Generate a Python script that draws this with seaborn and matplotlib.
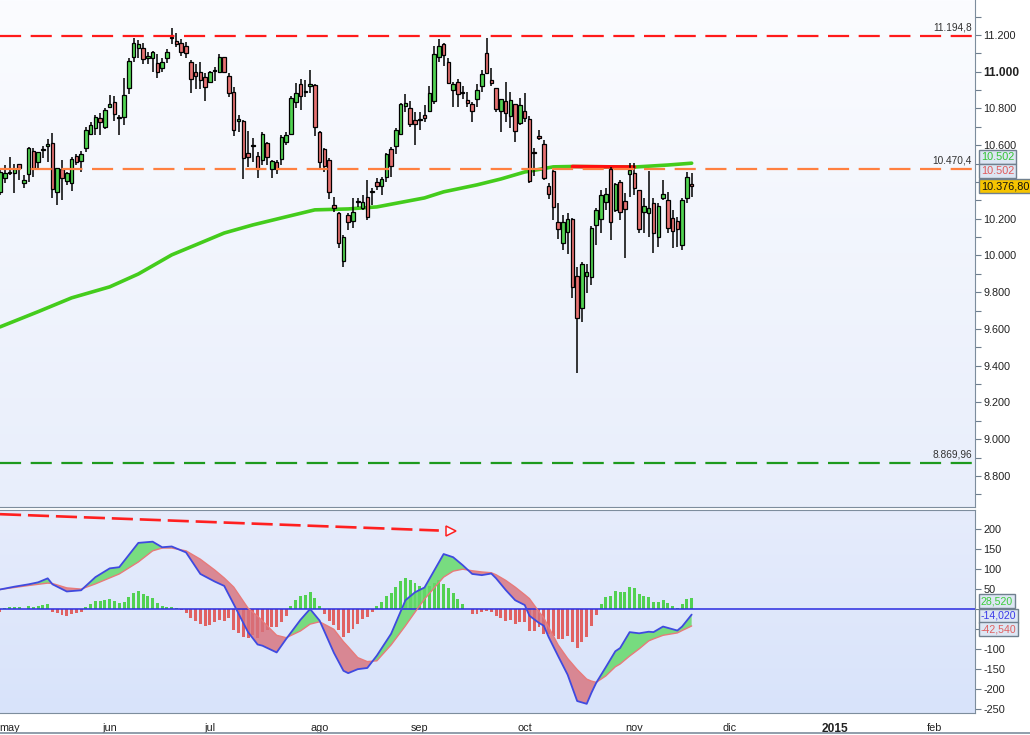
import numpy as np
import pandas as pd
import matplotlib
matplotlib.use("Agg")
import matplotlib.pyplot as plt
from matplotlib.colors import LinearSegmentedColormap
import seaborn as sns

# ---- daily candles (IBEX 35, 29 apr 2014 -> 19 nov 2014) ----
opens = [10343, 10420, 10447, 10450, 10496, 10392, 10443, 10568, 10507, 10576,
         10594, 10610, 10347, 10470, 10407, 10396, 10543, 10516, 10587, 10663,
         10692, 10746, 10701, 10810, 10833, 10748, 10752, 10909, 11082, 11127,
         11127, 11073, 11073, 11046, 11022, 11073, 11183, 11167, 11154, 11138,
         11051, 10996, 11000, 10969, 10946, 11004, 10996, 11078, 10978, 10891,
         10730, 10733, 10556, 10595, 10541, 10518, 10610, 10469, 10510, 10523,
         10616, 10659, 10833, 10931, 10891, 10920, 10926, 10674, 10577, 10519,
         10273, 10229, 9972, 10220, 10189, 10293, 10260, 10316, 10345, 10398,
         10380, 10425, 10577, 10598, 10663, 10815, 10801, 10735, 10739, 10764,
         10788, 10842, 11078, 11149, 11051, 10902, 10942, 10882, 10844, 10824,
         10850, 10924, 11100, 10953, 10909, 10788, 10839, 10761, 10822, 10719,
         10784, 10740, 10558, 10650, 10607, 10378, 10460, 10180, 10066, 10130,
         10197, 9890, 9716, 9890, 9885, 10164, 10197, 10293, 10469, 10247,
         10398, 10298, 10442, 10447, 10354, 10238, 10233, 10284, 10099, 10311,
         10300, 10202, 10188, 10055, 10311, 10387]
highs = [10465, 10492, 10536, 10500, 10496, 10438, 10592, 10583, 10565, 10597,
         10634, 10665, 10474, 10519, 10456, 10537, 10550, 10568, 10701, 10728,
         10764, 10773, 10801, 10873, 10870, 10764, 10964, 11076, 11182, 11173,
         11154, 11109, 11113, 11094, 11073, 11124, 11240, 11209, 11178, 11160,
         11064, 11040, 11051, 10991, 11004, 11027, 11094, 11078, 10991, 10915,
         10764, 10737, 10677, 10637, 10565, 10674, 10619, 10519, 10519, 10656,
         10674, 10870, 10937, 10960, 10955, 11009, 10931, 10677, 10583, 10529,
         10320, 10238, 10111, 10229, 10314, 10311, 10329, 10411, 10365, 10420,
         10429, 10556, 10592, 10692, 10828, 10877, 10841, 10779, 10779, 10819,
         10922, 11142, 11178, 11154, 11073, 10942, 10960, 10924, 10891, 10837,
         10931, 11009, 11185, 11018, 10913, 10851, 10942, 10891, 10826, 10855,
         10882, 10760, 10585, 10683, 10629, 10393, 10465, 10284, 10220, 10229,
         10202, 9939, 9966, 9952, 10160, 10257, 10356, 10365, 10483, 10396,
         10411, 10338, 10501, 10501, 10356, 10311, 10460, 10311, 10284, 10411,
         10347, 10247, 10211, 10311, 10456, 10447]
lows = [10330, 10392, 10438, 10338, 10410, 10365, 10401, 10429, 10474, 10528,
        10510, 10314, 10274, 10302, 10383, 10353, 10492, 10456, 10565, 10656,
        10656, 10656, 10688, 10801, 10733, 10656, 10710, 10879, 11051, 11073,
        11040, 11040, 11000, 10964, 11000, 11046, 11149, 11136, 11087, 11073,
        10882, 10904, 10906, 10840, 10942, 10949, 10991, 10996, 10864, 10650,
        10674, 10414, 10483, 10510, 10420, 10492, 10492, 10420, 10441, 10492,
        10601, 10656, 10801, 10792, 10864, 10882, 10652, 10465, 10456, 10305,
        10238, 10042, 9939, 10138, 10148, 10266, 10247, 10193, 10275, 10356,
        10329, 10402, 10429, 10552, 10656, 10779, 10701, 10601, 10683, 10728,
        10779, 10824, 11055, 11031, 10931, 10810, 10810, 10852, 10810, 10728,
        10810, 10891, 10986, 10924, 10779, 10670, 10724, 10692, 10619, 10710,
        10728, 10393, 10430, 10629, 10411, 10306, 10193, 10088, 10030, 10008,
        9767, 9362, 9640, 9794, 9839, 10057, 10120, 10247, 10084, 10238,
        10193, 9988, 10320, 10329, 10124, 10120, 10102, 10012, 10048, 10302,
        10120, 10039, 10048, 10030, 10287, 10320]
closes = [10456, 10450, 10455, 10470, 10474, 10410, 10583, 10478, 10561, 10580,
          10606, 10360, 10474, 10420, 10447, 10523, 10510, 10550, 10683, 10710,
          10752, 10728, 10790, 10822, 10768, 10752, 10873, 11058, 11154, 11149,
          11067, 11084, 11105, 11000, 11051, 11105, 11187, 11149, 11109, 11100,
          10958, 10978, 10953, 10915, 11000, 11008, 11082, 11000, 10882, 10681,
          10741, 10528, 10534, 10599, 10469, 10659, 10534, 10516, 10470, 10643,
          10656, 10855, 10882, 10870, 10895, 10931, 10701, 10507, 10489, 10347,
          10260, 10070, 10099, 10184, 10235, 10297, 10289, 10211, 10349, 10380,
          10414, 10550, 10489, 10681, 10822, 10828, 10714, 10717, 10743, 10746,
          10882, 11094, 11142, 11093, 10940, 10931, 10877, 10886, 10832, 10788,
          10899, 10986, 10995, 10940, 10795, 10850, 10773, 10844, 10679, 10819,
          10746, 10407, 10562, 10639, 10423, 10333, 10266, 10142, 10180, 10197,
          9830, 9662, 9952, 9908, 10148, 10246, 10327, 10333, 10184, 10387,
          10238, 10255, 10465, 10365, 10146, 10267, 10257, 10120, 10267, 10335,
          10148, 10133, 10142, 10300, 10425, 10376.8]

# moving average read at sample days (index of trading day)
ma_day = [0, 8, 15, 23, 29, 36, 41, 47, 53, 59, 66, 73, 79, 89, 93, 100, 105, 110,
          116, 120, 124, 129, 133, 140, 145]
ma_val = [9611, 9694, 9769, 9829, 9899, 10003, 10057, 10122, 10166, 10204, 10248,
          10253, 10264, 10313, 10346, 10384, 10416, 10454, 10482, 10484, 10483,
          10482, 10481, 10492, 10502]
ma_flat_from, ma_flat_to = 120, 133

# horizontal levels
res_level = 11194.8
mid_level = 10470.4
sup_level = 8869.96

# MACD panel
macd_day = [0, 3, 6, 8, 10, 11, 14, 17, 20, 23, 25, 29, 32, 34, 36, 39, 42, 45, 47,
            49, 52, 54, 55, 58, 60, 63, 65, 67, 70, 72, 73, 75, 77, 79, 82, 85, 87,
            89, 93, 95, 97, 99, 101, 103, 104, 106, 108, 110, 111, 113, 114, 115,
            117, 119, 121, 123, 124, 125, 127, 129, 130, 132, 134, 136, 137, 139,
            142, 143, 145]
macd_line = [49, 56, 62, 67, 77, 62, 44, 47, 80, 102, 105, 166, 169, 155, 157, 142,
             88, 69, 58, 12, -58, -89, -92, -109, -75, -27, 0, -29, -110, -155, -161,
             -151, -148, -117, -62, 22, 42, 54, 138, 130, 110, 88, 85, 89, 77, 48, 22,
             10, -17, -35, -42, -70, -118, -165, -231, -238, -210, -185, -146, -106,
             -98, -58, -61, -57, -58, -44, -54, -44, -14.02]
signal_line = [49, 54, 59, 62, 65, 64, 53, 50, 63, 78, 88, 118, 146, 153, 153, 146,
               125, 98, 78, 55, 2, -18, -30, -66, -72, -55, -38, -32, -51, -82, -95,
               -122, -132, -130, -90, -42, -8, 25, 80, 95, 100, 96, 93, 91, 86, 72, 55,
               36, 26, -7, -22, -45, -90, -124, -152, -176, -181, -184, -168, -145,
               -138, -118, -100, -80, -75, -66, -60, -54, -42.54]
hist = [-7, 2, 4, 6, 6, 1, 8, 6, 8, 10,
        13, -7, -10, -15, -17, -13, -10, -7, 6, 13,
        21, 21, 23, 25, 21, 14, 18, 31, 40, 45,
        38, 33, 28, 15, 8, 6, 6, 3, -3, -10,
        -23, -29, -38, -42, -40, -33, -27, -29, -23, -53,
        -60, -69, -74, -65, -74, -57, -52, -46, -46, -32,
        -17, 8, 23, 33, 35, 42, 28, 8, -13, -29,
        -40, -53, -69, -61, -49, -38, -25, -19, -7, 8,
        18, 32, 40, 54, 71, 78, 74, 65, 57, 52,
        59, 65, 73, 62, 52, 40, 25, 13, 0, -13,
        -12, -7, -4, -7, -17, -23, -29, -27, -38, -32,
        -32, -54, -54, -46, -63, -63, -67, -75, -75, -67,
        -82, -98, -82, -69, -42, -15, 13, 29, 32, 44,
        42, 42, 54, 52, 38, 32, 29, 17, 17, 23,
        14, 7, 3, 13, 25, 28.52]
trend_day = [0, 92]
trend_val = [238, 197]

month_names = ["may", "jun", "jul", "ago", "sep", "oct", "nov", "dic", "2015", "feb"]

# trading calendar (index -> date), extended into the future
days = pd.bdate_range("2014-04-29", periods=215, freq="C",
                      holidays=["2014-05-01", "2014-12-25", "2015-01-01"])
first_of_month = pd.Series(np.arange(len(days)), index=days).groupby(
    [days.year, days.month]).min().values
tick_pos = first_of_month[1:11]

sns.set_style("white")
plt.rcParams['font.family'] = ['Liberation Sans', 'DejaVu Sans']

W, H = 1030, 735
fig = plt.figure(figsize=(W / 100, H / 100), dpi=100)
fig.patch.set_facecolor("#ffffff")
ax = fig.add_axes([0, 1 - 507 / H, 975 / W, 507 / H])
ax2 = fig.add_axes([0, 1 - 713 / H, 975 / W, 203 / H])
fig.add_artist(plt.Line2D([0, 1], [2 / H, 2 / H], color="#7d8d9d", lw=1.2))


def gradient(a, top, bottom):
    cmap = LinearSegmentedColormap.from_list("bg", [top, bottom])
    a.imshow(np.linspace(0, 1, 256).reshape(-1, 1), extent=[0, 1, 0, 1],
             transform=a.transAxes, aspect="auto", cmap=cmap, zorder=0)


gradient(ax, "#fbfcff", "#e8eefb")
gradient(ax2, "#e6ecfc", "#d8e3fa")

# ---- candles ----
o, h, l, c = map(np.array, (opens, highs, lows, closes))
k = np.arange(len(c))
up = c >= o
lo = np.minimum(o, c)
bh = np.maximum(np.abs(c - o), 5)
ax.vlines(k, l, h, color="black", lw=1.1, zorder=3)
ax.bar(k[up], bh[up], bottom=lo[up], width=0.74, color="#52d452",
       edgecolor="black", lw=0.9, zorder=4)
ax.bar(k[~up], bh[~up], bottom=lo[~up], width=0.74, color="#e77272",
       edgecolor="black", lw=0.9, zorder=4)

# moving average
ma_day_a, ma_val_a = np.array(ma_day), np.array(ma_val)
sns.lineplot(x=ma_day_a, y=ma_val_a, ax=ax, color="#44cc1c", lw=2.6, zorder=2)
flat = (ma_day_a >= ma_flat_from) & (ma_day_a <= ma_flat_to)
ax.plot(ma_day_a[flat], ma_val_a[flat], color="#ff1010", lw=2.6, zorder=2.1)

# levels
dash = (9.5, 4.3)
ax.axhline(res_level, color="#ff1a1a", lw=1.6, dashes=dash, zorder=5)
ax.axhline(mid_level, color="#ff8040", lw=1.6, dashes=dash, zorder=5)
ax.axhline(sup_level, color="#1d9a1d", lw=1.6, dashes=dash, zorder=5)


def fmt(v, dec=0):
    s = f"{v:,.{dec}f}"
    return s.replace(",", "X").replace(".", ",").replace("X", ".")


for lev, txt in [(res_level, fmt(res_level, 1)), (mid_level, fmt(mid_level, 1)),
                 (sup_level, fmt(sup_level, 2))]:
    ax.text(0.997, lev + 18, txt, transform=ax.get_yaxis_transform(),
            ha="right", va="bottom", fontsize=7.3, color="#333333", zorder=6)

ax.set_xlim(0, 204.4)
ax.set_ylim(8631, 11390)
yt = np.arange(8800, 11201, 200)
ax.set_yticks(yt)
# the 10.400 label sits behind the value boxes in the reference
ax.set_yticklabels(["" if v == 10400 else fmt(v) for v in yt])
ax.set_yticks(np.arange(8700, 11400, 100), minor=True)
ax.yaxis.tick_right()
ax.tick_params(axis="y", which="both", direction="out", length=4, width=0.8,
               color="#6d7d8d", labelsize=7.8, pad=2, labelcolor="#222222")
for t, v in zip(ax.get_yticklabels(), yt):
    if v == 11000:
        t.set_fontweight("bold")
        t.set_fontsize(8.6)
ax.tick_params(axis="x", bottom=False, labelbottom=False)
for side in ["left", "top"]:
    ax.spines[side].set_visible(False)
for side in ["right", "bottom"]:
    ax.spines[side].set_color("#7d8d9d")

box = dict(boxstyle="square,pad=0.18", fc="#dde6f3", ec="#70808f", lw=1)
ytr = ax.get_yaxis_transform()
ax.text(1.006, 10536, fmt(ma_val[-1]), transform=ytr, color="#33c433", fontsize=7.8,
        va="center", ha="left", bbox=box, clip_on=False, zorder=10)
ax.text(1.006, 10460, fmt(ma_val[-1]), transform=ytr, color="#e05a5a", fontsize=7.8,
        va="center", ha="left", bbox=box, clip_on=False, zorder=10)
ax.text(1.006, closes[-1], fmt(closes[-1], 2), transform=ytr, color="#111111",
        fontsize=7.8, va="center", ha="left", clip_on=False, zorder=11,
        bbox=dict(boxstyle="square,pad=0.18", fc="#f6c400", ec="#70808f", lw=1))

# ---- MACD ----
md = np.array(macd_day)
ml = np.array(macd_line)
sl = np.array(signal_line)
hv = np.array(hist)
ax2.bar(k, hv, width=0.62, color=np.where(hv >= 0, "#52d152", "#e06262"), lw=0,
        zorder=2)
ax2.fill_between(md, ml, sl, where=ml >= sl, interpolate=True, color="#66da6a",
                 alpha=0.85, lw=0, zorder=3)
ax2.fill_between(md, ml, sl, where=ml < sl, interpolate=True, color="#d8707a",
                 alpha=0.8, lw=0, zorder=3)
ax2.axhline(0, color="#2a2ae0", lw=1.1, zorder=4)
sns.lineplot(x=md, y=sl, ax=ax2, color="#e87a7a", lw=1.0, zorder=5)
sns.lineplot(x=md, y=ml, ax=ax2, color="#3f4ae0", lw=1.3, zorder=6)

ax2.plot(trend_day, trend_val, color="#ff2020", lw=1.9, dashes=(8, 2.6), zorder=6)
ax2.plot([trend_day[-1] + 2.6], [trend_val[-1] - 1], marker=">", ms=7,
         mfc="#f4f6ff", mec="#ff2020", mew=1.1, zorder=7)

ax2.set_xlim(0, 204.4)
ax2.set_ylim(-261, 248.5)
mt = np.arange(-250, 201, 50)
ax2.set_yticks(mt)
# 0 and -50 are hidden behind the value boxes in the reference
ax2.set_yticklabels(["" if v in (0, -50) else str(v) for v in mt])
ax2.yaxis.tick_right()
ax2.tick_params(axis="y", direction="out", length=4, width=0.8, color="#6d7d8d",
                labelsize=7.8, pad=2, labelcolor="#222222")
ax2.set_xticks(tick_pos)
ax2.set_xticklabels(month_names)
ax2.tick_params(axis="x", direction="out", length=4, width=0.8, color="#6d7d8d",
                labelsize=7.8, pad=3, labelcolor="#222222")
for t in ax2.get_xticklabels():
    if t.get_text() == "2015":
        t.set_fontweight("bold")
        t.set_fontsize(8.6)
ax2.spines["left"].set_visible(False)
for side in ["right", "bottom", "top"]:
    ax2.spines[side].set_color("#7d8d9d")

ytr2 = ax2.get_yaxis_transform()
ax2.text(1.006, 20, fmt(hist[-1], 3), transform=ytr2, color="#3ccc3c", fontsize=7.6,
         va="center", ha="left", bbox=box, clip_on=False, zorder=10)
ax2.text(1.006, -17, fmt(macd_line[-1], 3), transform=ytr2, color="#3a3ae8",
         fontsize=7.6, va="center", ha="left", bbox=box, clip_on=False, zorder=10)
ax2.text(1.006, -51, fmt(signal_line[-1], 3), transform=ytr2, color="#e06060",
         fontsize=7.6, va="center", ha="left", bbox=box, clip_on=False, zorder=10)

fig.savefig("out.png", dpi=100)
